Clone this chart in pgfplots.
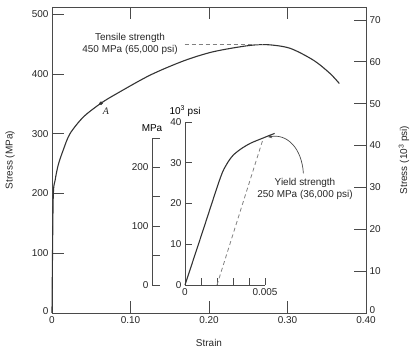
\documentclass[border=0pt]{standalone}
\usepackage{pgfplots}
\pgfplotsset{compat=1.18}
\usepackage{fontspec}
\setmainfont{Liberation Sans}
\newfontfamily\seriffont{Liberation Serif}
\definecolor{axcol}{HTML}{4A4A4A}
\definecolor{curvecol}{HTML}{333333}
\definecolor{dashcol}{HTML}{808080}
\begin{document}
\fontsize{10}{12}\selectfont
\begin{tikzpicture}
\path (0bp,0bp) rectangle (416bp,353bp);
\pgfplotsset{every axis/.append style={
  scale only axis,
  font=\fontsize{10}{12}\selectfont,
  /pgf/number format/assume math mode=true,
  tick align=inside,
  every tick/.style={draw=axcol, line width=0.8bp},
  axis line style={draw=axcol, line width=0.8bp},
  tick label style={text=black!85},
  label style={text=black!85},
}}
% main axis (MPa)
\begin{axis}[at={(52bp,40bp)}, anchor=south west, width=314bp, height=306bp,
  xmin=0, xmax=0.4, ymin=0, ymax=512,
  xtick={0,0.1,0.2,0.3,0.4}, xticklabels={0,0.10,0.20,0.30,0.40},
  ytick={0,100,200,300,400,500},
  yticklabels={\raisebox{3bp}{0},100,200,300,400,500},
  xtick pos=both, xticklabel pos=bottom, ytick pos=left,
  major tick length=12bp,
  xlabel={Strain}, ylabel={Stress (MPa)},
  xlabel style={at={(axis description cs:0.5,-0.098)}, anchor=center},
  ylabel style={at={(axis description cs:-0.134,0.5)}, anchor=center},
  clip=false]
\addplot[color=curvecol, line width=1.1bp, smooth, tension=0.5] coordinates {
 (0,0) (0.0015,190) (0.004,222) (0.008,248) (0.0144,273) (0.0229,300)
 (0.040,328) (0.0624,351) (0.0824,367) (0.125,398) (0.168,422) (0.205,437)
 (0.248,447) (0.2735,449) (0.303,443) (0.333,423) (0.354,401) (0.366,384)};
\addplot[color=dashcol, line width=0.8bp, dash pattern=on 4bp off 3bp] coordinates {(0.169,449) (0.269,449)};
\addplot[only marks, mark=*, mark size=1.6bp, color=curvecol] coordinates {(0.0624,351)};
\end{axis}
% right axis (ksi)
\begin{axis}[at={(52bp,40bp)}, anchor=south west, width=314bp, height=306bp,
  xmin=0, xmax=0.4, ymin=0, ymax=73.1,
  hide x axis, axis y line*=right, axis line style={-},
  ytick={0,10,20,30,40,50,60,70},
  yticklabels={\raisebox{5bp}{0},10,20,30,40,50,60,70},
  major tick length=12bp,
  ylabel={Stress (10\textsuperscript{3} psi)},
  ylabel style={at={(axis description cs:1.121,0.5)}, anchor=center}]
\addplot[draw=none] coordinates {(0,0)};
\end{axis}
% inset MPa axis
\begin{axis}[at={(152bp,68bp)}, anchor=south west, width=20bp, height=147bp,
  xmin=0, xmax=1, ymin=0, ymax=250,
  hide x axis, axis y line*=left, axis line style={-},
  ytick={0,50,100,150,200,250}, yticklabels={0,,100,,200,},
  major tick length=8bp, clip=false]
\addplot[draw=none] coordinates {(0,0)};
\node[anchor=center] at (axis cs:0,250) [yshift=10bp] {MPa};
\end{axis}
% inset ksi axis
\begin{axis}[at={(185bp,68bp)}, anchor=south west, width=80bp, height=163bp,
  xmin=0, xmax=0.005, ymin=0, ymax=40,
  axis x line*=bottom, axis y line*=left, axis line style={-},
  tick align=inside,
  xtick={0,0.001,0.002,0.003,0.004,0.005}, xticklabels={0,,,,,0.005},
  scaled x ticks=false,
  ytick={0,10,20,30,40},
  major tick length=7bp, clip=false]
\addplot[color=curvecol, line width=1.1bp, smooth, tension=0.5] coordinates {
 (0,0) (0.0011,13.1) (0.0022,26.2) (0.0026,29.6) (0.0030,31.8) (0.0035,33.4)
 (0.0041,34.8) (0.0049,36.1) (0.0056,37.2)};
\addplot[color=dashcol, line width=0.8bp, dash pattern=on 4bp off 3bp] coordinates {(0.002,0) (0.0049,36.1)};
\draw[->, >=stealth, color=axcol, line width=0.7bp] (axis cs:0.0074,27.4) .. controls (axis cs:0.0073,33.5) and (axis cs:0.0064,37.2) .. (axis cs:0.0052,36.3);
\node[anchor=center] at (axis cs:0,40) [yshift=11bp] {10\textsuperscript{3} psi};
\end{axis}
\node[align=center, text=black!85] at (130bp,309bp) {Tensile strength\\450 MPa (65,000 psi)};
\node[align=center, text=black!85] at (305bp,164bp) {Yield strength\\250 MPa (36,000 psi)};
\node[text=black!85] at (106bp,242bp) {\seriffont\itshape A};
\end{tikzpicture}
\end{document}
